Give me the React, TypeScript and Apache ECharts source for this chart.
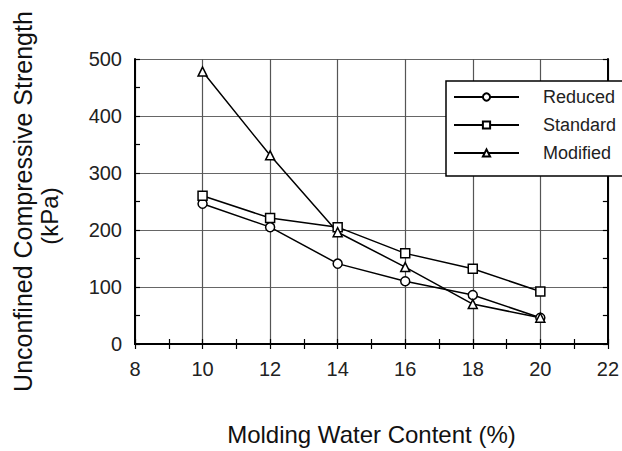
import React, { useEffect, useRef } from "react";
import * as echarts from "echarts";

const waterContent = [10, 12, 14, 16, 18, 20];
const reduced = [246, 205, 141, 110, 86, 46];
const standard = [260, 221, 205, 159, 132, 92];
const modified = [478, 331, 196, 135, 70, 46];
const seriesNames = ["Reduced", "Standard", "Modified"];
const xTitle = "Molding Water Content (%)";
const yTitle = "Unconfined Compressive Strength";
const yUnit = "(kPa)";

const FONT = "'Liberation Sans', Arial, Helvetica, sans-serif";

export default function App() {
  const ref = useRef<HTMLDivElement>(null);
  useEffect(() => {
    if (!ref.current) return;
    const chart = echarts.init(ref.current, null, { renderer: "svg" });
    const pairs = (ys: number[]) => waterContent.map((x, i) => [x, ys[i]]);
    const mk = (name: string, ys: number[], symbol: string) => ({
      name,
      type: "line",
      data: pairs(ys),
      symbol,
      symbolSize: 9,
      showAllSymbol: true,
      lineStyle: { color: "#000", width: 1.5 },
      itemStyle: { color: "#fff", borderColor: "#000", borderWidth: 1.5 },
      z: 5,
    });
    const baseAxisCommon = {
      axisLine: { show: true, lineStyle: { color: "#000", width: 2 } },
      axisTick: { show: true, inside: true, length: 5, lineStyle: { color: "#000", width: 1.2 } },
      minorTick: { show: true, splitNumber: 2, length: 5, lineStyle: { color: "#000", width: 1.2 } },
    };
    chart.setOption({
      animation: false,
      backgroundColor: "#fff",
      textStyle: { fontFamily: FONT },
      grid: { left: 135, right: 13, top: 59, bottom: 105, containLabel: false },
      legend: {
        data: seriesNames,
        orient: "vertical",
        left: 446,
        top: 81,
        backgroundColor: "#fff",
        borderColor: "#000",
        borderWidth: 1.5,
        borderRadius: 0,
        padding: [6, 20, 13, 7],
        itemWidth: 65,
        itemHeight: 9,
        itemGap: 8,
        textStyle: { fontFamily: FONT, fontSize: 18, color: "#222", padding: [0, 0, 0, 19], lineHeight: 20 },
        z: 10,
      },
      xAxis: [
        {
          type: "value",
          min: 8,
          max: 22,
          interval: 2,
          position: "bottom",
          name: xTitle,
          nameLocation: "middle",
          nameGap: 78,
          nameTextStyle: { fontFamily: FONT, fontSize: 24, color: "#111" },
          axisLabel: { fontFamily: FONT, fontSize: 20, color: "#222", margin: 15 },
          splitLine: { show: true, lineStyle: { color: "#555", width: 1.2 } },
          ...baseAxisCommon,
        },
        {
          type: "value",
          min: 8,
          max: 22,
          interval: 2,
          position: "top",
          axisLabel: { show: false },
          splitLine: { show: false },
          ...baseAxisCommon,
        },
      ],
      yAxis: [
        {
          type: "value",
          min: 0,
          max: 500,
          interval: 100,
          position: "left",
          name: yTitle,
          nameLocation: "middle",
          nameRotate: 90,
          nameGap: 100,
          nameTextStyle: { fontFamily: FONT, fontSize: 25, color: "#111" },
          axisLabel: { fontFamily: FONT, fontSize: 20, color: "#222", margin: 13 },
          splitLine: { show: true, lineStyle: { color: "#666", width: 1.2 } },
          ...baseAxisCommon,
        },
        {
          type: "value",
          min: 0,
          max: 500,
          interval: 100,
          position: "right",
          axisLabel: { show: false },
          splitLine: { show: false },
          ...baseAxisCommon,
        },
      ],
      graphic: [
        {
          type: "text",
          x: 49,
          y: 216,
          rotation: Math.PI / 2,
          style: {
            text: yUnit,
            fontFamily: FONT,
            fontSize: 24,
            fill: "#111",
            align: "center",
            verticalAlign: "middle",
          },
        },
      ],
      series: [
        mk(seriesNames[0], reduced, "circle"),
        mk(seriesNames[1], standard, "rect"),
        mk(seriesNames[2], modified, "triangle"),
      ],
    });
    return () => chart.dispose();
  }, []);
  return <div ref={ref} style={{ width: 622, height: 451, position: "absolute", left: 0, top: 0 }} />;
}
